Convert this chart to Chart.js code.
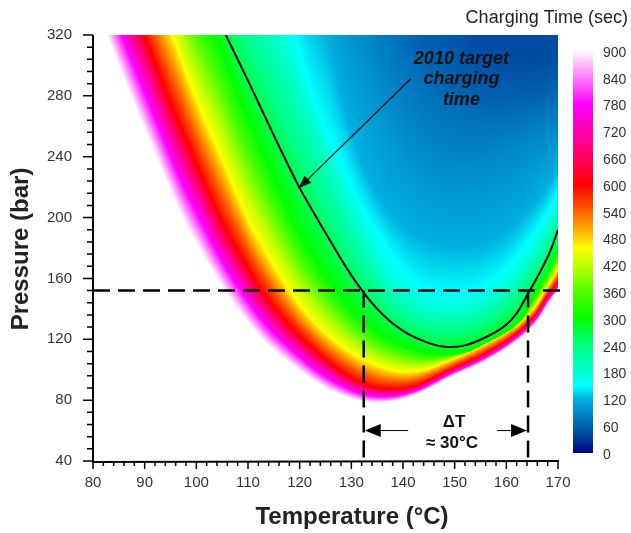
<!DOCTYPE html>
<html>
<head>
<meta charset="utf-8">
<script src="https://cdn.jsdelivr.net/npm/chart.js@4.4.1/dist/chart.umd.min.js"></script>
<style>
  html, body { margin: 0; padding: 0; background: #fff; }
</style>
</head>
<body>
<canvas id="grafico" width="631" height="533"></canvas>
<script>
// charging time contours, [temperature °C, pressure bar]
const c900 = [[80,345],[82.7,320],[87.3,280],[92.2,240],[97.3,200],[101.5,174],[105.5,152],[109.5,133],[113.6,117],[119,102],[124,90],[129,82],[134,78.5],[139,80],[144,86],[149,95],[156,106],[162,119],[166,132],[168.4,145],[170,152]];
const c600 = [[87,345],[90,320],[94.5,280],[99.5,240],[104.6,200],[108.6,175],[112.7,152],[117,133],[121,119],[125,107],[129,97],[133,90],[137,87.5],[142,89],[149,100],[156,111],[162,124],[165.5,136],[167.8,148],[170,158]];
const c460 = [[92,345],[95.3,320],[99.7,280],[104.8,240],[109.8,200],[113.8,175],[118,152],[122,134],[126,121],[130,111],[134,104],[138,99.5],[143,99],[149,106],[156,117],[162,129],[165.5,141],[167.5,152],[170,166]];
const c300 = [[100,345],[103.6,320],[108.2,280],[113.2,240],[118.5,200],[122.5,175],[127,152],[131,136],[135,125],[140,116],[145,111],[150,110.5],[155,114],[160,123],[163.5,136],[166,152],[168,163],[170,178]];
const c180 = [[111.5,345],[115.5,320],[120.5,280],[125.5,240],[130.5,200],[134,176],[137,158],[141,147],[145,140],[149,138],[153,140],[157,146],[160,154],[163,166],[166,180],[168,192],[170,205]];
const c150 = [[115.5,345],[119,320],[122.5,280],[127.5,240],[132.5,205],[137,180],[141,162],[144,154],[149,151],[154,153],[157,158],[161,170],[165,188],[168,204],[170,216]];
const c120 = [[122,345],[125,320],[128,280],[131.5,240],[136,210],[141,192],[146,183],[151,180],[156,183],[161,193],[165,207],[168,220],[170,232]];
const c90 = [[130,345],[133,320],[137,285],[141,260],[146,243],[151,237],[156,239],[161,244],[166,252],[170,258]];
const c60 = [[138,360],[143,320],[147,300],[151,287],[156,281],[161,280],[166,282],[170,288]];
const c45 = [[148,360],[153,320],[157,308],[162,303],[167,303],[171,308]];
const levels = [900, 600, 460, 300, 180, 150, 120, 90, 60, 45];
const contours = [c900, c600, c460, c300, c180, c150, c120, c90, c60, c45];

// 2010 target charging time curve
const targetT = [105.7, 110, 115, 120, 125, 130, 135, 140, 145, 148.5, 152, 155.5, 159.4, 162, 164.3, 166.5, 168.5, 170];
const targetP = [320, 290, 254, 219.5, 190, 162, 140, 125.5, 117.5, 115, 116, 120.5, 128, 137, 150.7, 164, 178, 192];

const dashP = 152;
const dashT = [132.4, 164.2];
const deltaP = 60;
const cbTicks = [0, 60, 120, 180, 240, 300, 360, 420, 480, 540, 600, 660, 720, 780, 840, 900];

const FONT = 'Liberation Sans, Arial, sans-serif';
const cmap = [[0,'#000080'],[30,'#003898'],[60,'#0060b0'],[90,'#0088c8'],[120,'#00b0e0'],[150,'#00ffff'],[180,'#00ffd0'],[240,'#00ff80'],[300,'#00ff00'],[360,'#50ff00'],[420,'#c0ff00'],[460,'#ffff00'],[480,'#ffd000'],[540,'#ff6000'],[600,'#ff0000'],[660,'#ff0060'],[720,'#ff00b0'],[780,'#ff00ff'],[840,'#ff80ff'],[900,'#ffffff']];
const cmapRgb = cmap.map(([v, h]) => [v, parseInt(h.slice(1,3),16), parseInt(h.slice(3,5),16), parseInt(h.slice(5,7),16)]);

function colorOf(v) {
  if (v >= 900) return [255,255,255];
  if (v <= 0) return cmapRgb[0].slice(1);
  for (let i = 1; i < cmapRgb.length; i++) {
    if (v <= cmapRgb[i][0]) {
      const a = cmapRgb[i-1], b = cmapRgb[i];
      const f = (v - a[0]) / (b[0] - a[0]);
      return [a[1]+f*(b[1]-a[1]), a[2]+f*(b[2]-a[2]), a[3]+f*(b[3]-a[3])];
    }
  }
  return [255,255,255];
}

// pressure of a contour at temperature t (cubic hermite through the read points)
function pAt(pts, t) {
  const n = pts.length;
  if (t < pts[0][0]) {
    const a = pts[0], b = pts[1];
    return a[1] + (t - a[0]) * (b[1] - a[1]) / (b[0] - a[0]);
  }
  if (t > pts[n-1][0]) {
    const a = pts[n-2], b = pts[n-1];
    return b[1] + (t - b[0]) * (b[1] - a[1]) / (b[0] - a[0]);
  }
  let i = 1;
  while (i < n - 1 && t > pts[i][0]) i++;
  const a = pts[i-1], b = pts[i];
  const h = b[0] - a[0], s = (t - a[0]) / h;
  const slope = k => {
    if (k <= 0) return (pts[1][1]-pts[0][1])/(pts[1][0]-pts[0][0]);
    if (k >= n-1) return (pts[n-1][1]-pts[n-2][1])/(pts[n-1][0]-pts[n-2][0]);
    return (pts[k+1][1]-pts[k-1][1])/(pts[k+1][0]-pts[k-1][0]);
  };
  const m0 = slope(i-1)*h, m1 = slope(i)*h;
  const s2 = s*s, s3 = s2*s;
  return (2*s3-3*s2+1)*a[1] + (s3-2*s2+s)*m0 + (-2*s3+3*s2)*b[1] + (s3-s2)*m1;
}

const heatmap = {
  id: 'heatmap',
  beforeDatasetsDraw(chart) {
    const {ctx, chartArea: a, scales: {x, y}} = chart;
    const w = Math.round(a.right - a.left), h = Math.round(a.bottom - a.top);
    const img = ctx.createImageData(w, h);
    for (let i = 0; i < w; i++) {
      const t = x.getValueForPixel(a.left + i + 0.5);
      const ps = [];
      let prev = -Infinity;
      for (const c of contours) { const p = Math.max(prev, pAt(c, t)); ps.push(p); prev = p; }
      for (let j = 0; j < h; j++) {
        const p = y.getValueForPixel(a.top + j + 0.5);
        let v;
        if (p <= ps[0]) v = 1000;
        else {
          v = levels[levels.length-1];
          for (let k = 0; k < ps.length - 1; k++) {
            if (p > ps[k] && p <= ps[k+1]) {
              v = levels[k] + (levels[k+1]-levels[k])*(p-ps[k])/(ps[k+1]-ps[k]);
              break;
            }
          }
        }
        const col = colorOf(v);
        const o = (j*w + i)*4;
        img.data[o] = col[0]; img.data[o+1] = col[1]; img.data[o+2] = col[2]; img.data[o+3] = 255;
      }
    }
    ctx.putImageData(img, Math.round(a.left), Math.round(a.top));
  }
};

function arrowHead(ctx, x0, y0, x1, y1, len, half) {
  const ang = Math.atan2(y1 - y0, x1 - x0);
  ctx.beginPath();
  ctx.moveTo(x1, y1);
  ctx.lineTo(x1 - len*Math.cos(ang) + half*Math.sin(ang), y1 - len*Math.sin(ang) - half*Math.cos(ang));
  ctx.lineTo(x1 - len*Math.cos(ang) - half*Math.sin(ang), y1 - len*Math.sin(ang) + half*Math.cos(ang));
  ctx.closePath();
  ctx.fill();
}

const extras = {
  id: 'extras',
  afterDraw(chart) {
    const {ctx, chartArea: a, scales: {x, y}} = chart;
    ctx.save();
    // axes and ticks
    ctx.strokeStyle = '#000';
    ctx.lineWidth = 2;
    ctx.beginPath();
    ctx.moveTo(a.left, a.top); ctx.lineTo(a.left, a.bottom + 1); ctx.lineTo(a.right + 1, a.bottom);
    ctx.stroke();
    ctx.lineWidth = 1.5;
    ctx.beginPath();
    for (let t = 80; t <= 170; t += 2) {
      const px = x.getPixelForValue(t);
      ctx.moveTo(px, a.bottom); ctx.lineTo(px, a.bottom + (t % 10 === 0 ? 8 : 5));
    }
    for (let p = 40; p <= 320; p += 8) {
      const py = y.getPixelForValue(p);
      ctx.moveTo(a.left, py); ctx.lineTo(a.left - (p % 40 === 0 ? 10 : 6), py);
    }
    ctx.stroke();

    // axis titles
    ctx.fillStyle = '#222';
    ctx.font = 'bold 24px ' + FONT;
    ctx.textAlign = 'center';
    ctx.textBaseline = 'middle';
    ctx.fillText('Temperature (°C)', 352, 517);
    ctx.save();
    ctx.translate(21, 249);
    ctx.rotate(-Math.PI/2);
    ctx.fillText('Pressure (bar)', 0, 0);
    ctx.restore();

    // colour bar
    const cbTop = 50, cbBot = 453;
    const g = ctx.createLinearGradient(0, cbBot, 0, cbTop);
    cmap.forEach(([v, c]) => g.addColorStop(v/900, c));
    ctx.fillStyle = g;
    ctx.fillRect(573, cbTop, 20, cbBot - cbTop);
    ctx.fillStyle = '#333';
    ctx.font = '14px ' + FONT;
    ctx.textAlign = 'left';
    cbTicks.forEach(v => ctx.fillText(String(v), 603, 455 - v*402/900));
    ctx.fillStyle = '#222';
    ctx.font = '18px ' + FONT;
    ctx.textAlign = 'right';
    ctx.fillText('Charging Time (sec)', 628, 18);

    // target annotation
    ctx.fillStyle = '#111';
    ctx.font = 'italic bold 18px ' + FONT;
    ctx.textAlign = 'center';
    const tx = x.getPixelForValue(151.3);
    ctx.fillText('2010 target', tx, y.getPixelForValue(304.4));
    ctx.fillText('charging', tx, y.getPixelForValue(290.8));
    ctx.fillText('time', tx, y.getPixelForValue(277));
    const ax0 = x.getPixelForValue(141.5), ay0 = y.getPixelForValue(291.2);
    const ax1 = x.getPixelForValue(119.8), ay1 = y.getPixelForValue(219.2);
    ctx.strokeStyle = '#111';
    ctx.lineWidth = 1.3;
    ctx.beginPath(); ctx.moveTo(ax0, ay0); ctx.lineTo(ax1, ay1); ctx.stroke();
    arrowHead(ctx, ax0, ay0, ax1, ay1, 13, 5);

    // delta T arrow
    const dy = y.getPixelForValue(deltaP);
    const l0 = x.getPixelForValue(dashT[0]), r0 = x.getPixelForValue(dashT[1]);
    ctx.fillStyle = '#000';
    ctx.strokeStyle = '#000';
    ctx.lineWidth = 1;
    ctx.beginPath();
    ctx.moveTo(l0 + 14, dy); ctx.lineTo(x.getPixelForValue(141), dy);
    ctx.moveTo(x.getPixelForValue(158.2), dy); ctx.lineTo(r0 - 14, dy);
    ctx.stroke();
    arrowHead(ctx, l0 + 20, dy, l0 + 1, dy, 16, 6.5);
    arrowHead(ctx, r0 - 20, dy, r0 - 1, dy, 16, 6.5);
    ctx.font = 'bold 17px ' + FONT;
    ctx.fillStyle = '#111';
    ctx.fillText('\u0394T', 454, 422);
    ctx.fillText('\u2248 30°C', 452, 443);
    ctx.restore();
  }
};

const pts = (ts, ps) => ts.map((t, i) => ({x: t, y: ps[i]}));
const dashStyle = {borderColor: '#000', borderWidth: 2.5, borderDash: [17, 8], pointRadius: 0, showLine: true, clip: false};

new Chart(document.getElementById('grafico'), {
  type: 'scatter',
  data: {
    datasets: [
      {
        label: '2010 target charging time',
        data: pts(targetT, targetP),
        borderColor: '#000',
        borderWidth: 2,
        pointRadius: 0,
        showLine: true,
        tension: 0.3
      },
      Object.assign({data: [{x: 80, y: dashP}, {x: 170.4, y: dashP}]}, dashStyle),
      Object.assign({data: [{x: dashT[0], y: dashP}, {x: dashT[0], y: 40}]}, dashStyle),
      Object.assign({data: [{x: dashT[1], y: dashP}, {x: dashT[1], y: 40}]}, dashStyle)
    ]
  },
  options: {
    responsive: false,
    animation: false,
    devicePixelRatio: 1,
    layout: { padding: { top: 35, right: 73, left: 0, bottom: 0 } },
    plugins: { legend: { display: false }, tooltip: { enabled: false } },
    scales: {
      x: {
        type: 'linear', min: 80, max: 170,
        ticks: { stepSize: 10, color: '#333', font: { size: 15, family: FONT }, padding: 13, maxRotation: 0 },
        grid: { display: false, drawTicks: false },
        border: { display: false },
        afterFit: s => { s.height = 72; }
      },
      y: {
        min: 40, max: 320,
        ticks: { stepSize: 40, color: '#333', font: { size: 15, family: FONT }, padding: 21 },
        grid: { display: false, drawTicks: false },
        border: { display: false },
        afterFit: s => { s.width = 93; }
      }
    }
  },
  plugins: [heatmap, extras]
});
</script>
</body>
</html>
